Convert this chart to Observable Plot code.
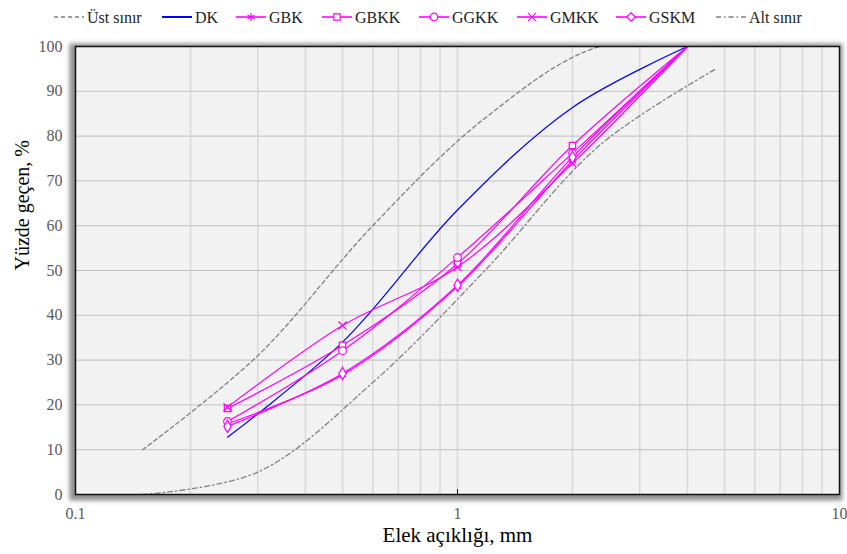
<!DOCTYPE html>
<html>
<head>
<meta charset="utf-8">
<script src="https://cdn.jsdelivr.net/npm/d3@7"></script>
<script src="https://cdn.jsdelivr.net/npm/@observablehq/plot@0.6"></script>
<style>
  html, body { margin: 0; padding: 0; background: #ffffff; }
  #wrap { width: 847px; height: 554px; position: relative; font-family: 'Liberation Serif', 'Times New Roman', serif; }
  #legend { display: block; }
  #legend text { font-family: 'Liberation Serif', 'Times New Roman', serif; }
  #chart svg { display: block; }
  #chart svg text { font-family: 'Liberation Serif', 'Times New Roman', serif; }
</style>
</head>
<body>
<div id="wrap">
  <svg id="legend" width="847" height="34"></svg>
  <div id="chart"></div>
</div>
<script>
// ---- data ----
const sieveSizes = [0.25, 0.5, 1, 2, 4];
const DK   = [12.8, 34.0, 63.5, 86.4, 100];
const GBK  = [15.8, 26.7, 46.4, 74.5, 100];
const GBKK = [19.2, 33.3, 51.5, 77.9, 100];
const GGKK = [16.3, 32.1, 52.9, 76.2, 100];
const GMKK = [19.5, 37.7, 50.8, 73.9, 100];
const GSKM = [15.2, 27.0, 46.7, 75.3, 100];

const limitSizes = [0.15, 0.3, 0.6, 1.18, 2.36, 4.75];
const ustSinir = [10, 31, 60, 84, 100, 100];
const altSinir = [0, 5, 25, 50, 78, 95];

const yTicks = [0, 10, 20, 30, 40, 50, 60, 70, 80, 90, 100];
const xTicks = [0.1, 1, 10];
const minorX = [0.2, 0.3, 0.4, 0.5, 0.6, 0.7, 0.8, 0.9, 1, 2, 3, 4, 5, 6, 7, 8, 9];

const seriesNames = ["DK", "GBK", "GBKK", "GGKK", "GMKK", "GSKM"];
const seriesValues = [DK, GBK, GBKK, GGKK, GMKK, GSKM];
const seriesColors = ["#0000ff", "#ff00ff", "#ff00ff", "#ff00ff", "#ff00ff", "#ff00ff"];
const seriesSymbols = [null, "asterisk", "square", "circle", "times", "diamond"];

const legendNames = ["Üst sınır", "DK", "GBK", "GBKK", "GGKK", "GMKK", "GSKM", "Alt sınır"];

// build tidy tables
const rows = [];
seriesNames.forEach((name, i) => {
  sieveSizes.forEach((s, j) => rows.push({series: name, size: s, value: seriesValues[i][j]}));
});
const ustRows = limitSizes.map((s, j) => ({size: s, value: ustSinir[j]}));
const altRows = limitSizes.map((s, j) => ({size: s, value: altSinir[j]}));

const FONT = "'Liberation Serif', 'Times New Roman', serif";
const MAG = "#ff00ff";

const marks = [
  // shadow
  Plot.frame({fill: "#8f8f8f", stroke: null, insetLeft: -6, insetBottom: -6, insetTop: -3, insetRight: -3, imageFilter: "blur(2px)"}),
  Plot.frame({fill: "#f2f2f2", stroke: null}),
  Plot.ruleX(minorX, {stroke: "#d9d9d9", strokeWidth: 1.5}),
  Plot.ruleY(yTicks.filter(d => d > 0 && d < 100), {stroke: "#c0c0c0", strokeWidth: 1}),
  // limits
  Plot.line(ustRows, {x: "size", y: "value", curve: "catmull-rom", stroke: "#808080", strokeWidth: 1.3, strokeDasharray: "4,3", clip: true}),
  Plot.line(altRows, {x: "size", y: "value", curve: "catmull-rom", stroke: "#808080", strokeWidth: 1.3, strokeDasharray: "5,3,1.5,3", clip: true}),
];

seriesNames.forEach((name, i) => {
  const data = rows.filter(r => r.series === name);
  marks.push(Plot.line(data, {x: "size", y: "value", curve: "catmull-rom", stroke: seriesColors[i], strokeWidth: 1.2, clip: true}));
});
seriesNames.forEach((name, i) => {
  if (!seriesSymbols[i]) return;
  // markers on all sieves except the last (100 %) point, as in the reference
  const data = rows.filter(r => r.series === name && r.value < 100);
  const sym = seriesSymbols[i];
  const strokeOnly = sym === "asterisk" || sym === "times";
  marks.push(Plot.dot(data, {x: "size", y: "value", symbol: sym, r: sym === "square" ? 3.6 : 3.8, stroke: MAG, strokeWidth: 1.2, fill: strokeOnly ? "none" : "#ffffff"}));
});

marks.push(
  Plot.frame({stroke: "#111111", strokeWidth: 1.5}),
  Plot.ruleX([1], {y1: 0, y2: 1.1, stroke: "#111111", strokeWidth: 1}),
  Plot.axisY(yTicks, {tickSize: 0, tickPadding: 13, fill: "#595959", fontSize: 16, label: null}),
  Plot.axisX(xTicks, {tickSize: 0, tickPadding: 13, fill: "#595959", fontSize: 16, tickFormat: d => String(d), label: null}),
  Plot.text(["Yüzde geçen, %"], {frameAnchor: "left", dx: -53, rotate: -90, fontSize: 20, fill: "#000000", fontFamily: FONT}),
  Plot.text(["Elek açıklığı, mm"], {frameAnchor: "bottom", dy: 47, fontSize: 21, fill: "#000000", fontFamily: FONT})
);

const chart = Plot.plot({
  width: 847,
  height: 520,
  marginLeft: 75,
  marginRight: 8,
  marginTop: 12,
  marginBottom: 60,
  x: {type: "log", domain: [0.1, 10]},
  y: {domain: [0, 100]},
  style: {fontFamily: FONT, fontSize: "16px", background: "transparent", overflow: "visible"},
  marks
});
document.getElementById("chart").appendChild(chart);

// ---- legend ----
const legend = d3.select("#legend");
const cy = 17;
const sampleX = [54, 162, 236, 322, 419, 517, 616, 716];
const legendStroke = ["#808080", "#0000ff", MAG, MAG, MAG, MAG, MAG, "#808080"];
const legendDash = ["4,3", null, null, null, null, null, null, "5,3,1.5,3"];
const legendSym = [null, null, "asterisk", "square", "circle", "times", "diamond", null];
const symMap = {asterisk: d3.symbolAsterisk, square: d3.symbolSquare, circle: d3.symbolCircle, times: d3.symbolTimes, diamond: d3.symbolDiamond2};
legendNames.forEach((name, i) => {
  const x0 = sampleX[i];
  const g = legend.append("g");
  g.append("line").attr("x1", x0).attr("x2", x0 + 30).attr("y1", cy).attr("y2", cy)
    .attr("stroke", legendStroke[i]).attr("stroke-width", i === 1 ? 2 : 1.6)
    .attr("stroke-dasharray", legendDash[i]);
  if (legendSym[i]) {
    const s = legendSym[i];
    const strokeOnly = s === "asterisk" || s === "times";
    const rr = s === "square" ? 3.6 : 3.8;
    g.append("path").attr("d", d3.symbol(symMap[s], Math.PI * rr * rr)())
      .attr("transform", `translate(${x0 + 15},${cy})`)
      .attr("fill", strokeOnly ? "none" : "#ffffff").attr("stroke", MAG).attr("stroke-width", 1.2);
  }
  g.append("text").attr("x", x0 + 33).attr("y", cy).attr("dy", "0.35em")
    .attr("font-size", 16).attr("fill", "#222").text(name);
});
</script>
</body>
</html>
